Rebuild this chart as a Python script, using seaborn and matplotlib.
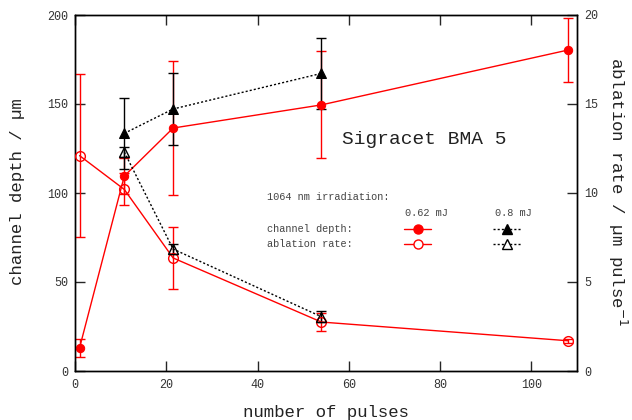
import matplotlib
matplotlib.use("Agg")
import matplotlib.pyplot as plt
import seaborn as sns
import pandas as pd
from matplotlib.lines import Line2D

# ---- data ----
pulses_062 = [1, 10.8, 21.5, 54, 108]
depth_062 = [13, 109.5, 136.5, 149.5, 180.3]
depth_062_err = [5, 10, 37.7, 30, 18]
rate_062 = [12.1, 10.2, 6.35, 2.75, 1.7]
rate_062_err = [4.6, 0.9, 1.75, 0.5, 0.1]

pulses_08 = [10.8, 21.5, 54]
depth_08 = [133.5, 147.2, 167.2]
depth_08_err = [20, 20, 20]
rate_08 = [12.3, 6.85, 3.05]
rate_08_err = [0.3, 0.3, 0.3]

xticks = [0, 20, 40, 60, 80, 100]
yticks_left = [0, 50, 100, 150, 200]
yticks_right = [0, 5, 10, 15, 20]

sns.set_theme(style="white")
plt.rcParams['font.family'] = ['Liberation Mono', 'DejaVu Sans Mono']

fig = plt.figure(figsize=(6.32, 4.2), dpi=100)
ax = fig.add_axes([75/632, 49/420, 502/632, 356/420])
ax2 = ax.twinx()

RED = '#ff0000'
dots = (0, (1.5, 1.5))

df_d62 = pd.DataFrame({'x': pulses_062, 'y': depth_062})
df_d08 = pd.DataFrame({'x': pulses_08, 'y': depth_08})
df_r62 = pd.DataFrame({'x': pulses_062, 'y': rate_062})
df_r08 = pd.DataFrame({'x': pulses_08, 'y': rate_08})

# error bars
ax.errorbar(pulses_062, depth_062, yerr=depth_062_err, fmt='none', ecolor=RED,
            elinewidth=1, capsize=3.5, capthick=1, zorder=2)
ax.errorbar(pulses_08, depth_08, yerr=depth_08_err, fmt='none', ecolor='black',
            elinewidth=1, capsize=3.5, capthick=1, zorder=2)
ax2.errorbar(pulses_062, rate_062, yerr=rate_062_err, fmt='none', ecolor=RED,
             elinewidth=1, capsize=3.5, capthick=1, zorder=2)
ax2.errorbar(pulses_08, rate_08, yerr=rate_08_err, fmt='none', ecolor='black',
             elinewidth=1, capsize=3.5, capthick=1, zorder=2)

# lines with markers
sns.lineplot(data=df_d62, x='x', y='y', ax=ax, color=RED, lw=1, marker='o',
             markersize=6, markeredgecolor=RED, markerfacecolor=RED, zorder=3)
sns.lineplot(data=df_d08, x='x', y='y', ax=ax, color='black', lw=1, linestyle=dots,
             marker='^', markersize=6.5, markeredgecolor='black', markerfacecolor='black', zorder=3)
sns.lineplot(data=df_r62, x='x', y='y', ax=ax2, color=RED, lw=1, marker='o',
             markersize=7, markeredgecolor=RED, markerfacecolor='none', markeredgewidth=1, zorder=3)
sns.lineplot(data=df_r08, x='x', y='y', ax=ax2, color='black', lw=1, linestyle=dots,
             marker='^', markersize=7, markeredgecolor='black', markerfacecolor='none',
             markeredgewidth=1, zorder=3)

ax.set_xlim(0, 110)
ax.set_ylim(0, 200)
ax2.set_ylim(0, 20)
ax.set_xticks(xticks)
ax.set_yticks(yticks_left)
ax2.set_yticks(yticks_right)
ax.set_xticklabels([str(t) for t in xticks])
ax.set_yticklabels([str(t) for t in yticks_left])
ax2.set_yticklabels([str(t) for t in yticks_right])

tickcol = '#333333'
ax.tick_params(axis='x', direction='in', length=7, width=1, top=True, bottom=True,
               labelsize=8.5, labelcolor=tickcol, pad=6)
ax.tick_params(axis='y', direction='in', length=7, width=1, left=True, right=False,
               labelsize=8.5, labelcolor=tickcol, pad=5)
ax2.tick_params(axis='y', direction='in', length=7, width=1, right=True,
                labelsize=8.5, labelcolor=tickcol, pad=5)
for a in (ax, ax2):
    for s in a.spines.values():
        s.set_color('black')
        s.set_linewidth(1)

ax.set_xlabel('')
ax.set_ylabel('')
ax2.set_ylabel('')

fig.text(18/632, 1 - 192/420, 'channel depth / µm', rotation=90, ha='center', va='center',
         fontsize=12.5, color='#222222')
fig.text(326/632, 1 - 412/420, 'number of pulses', ha='center', va='center',
         fontsize=12.5, color='#222222')
fig.text(618/632, 1 - 192/420, 'ablation rate / µm pulse$^{-1}$', rotation=270,
         ha='center', va='center', fontsize=12.5, color='#222222')

ax.text(0.531, 0.649, 'Sigracet BMA 5', transform=ax.transAxes, ha='left', va='center',
        fontsize=14, color='#222222')

# legend block
lfs = 7.4
lcol = '#444444'
ax.text(0.382, 0.489, '1064 nm irradiation:', transform=ax.transAxes, ha='left', va='center',
        fontsize=lfs, color=lcol)
ax.text(0.701, 0.444, '0.62 mJ', transform=ax.transAxes, ha='center', va='center',
        fontsize=lfs, color=lcol)
ax.text(0.873, 0.444, '0.8 mJ', transform=ax.transAxes, ha='center', va='center',
        fontsize=lfs, color=lcol)
ax.text(0.382, 0.400, 'channel depth:', transform=ax.transAxes, ha='left', va='center',
        fontsize=lfs, color=lcol)
ax.text(0.382, 0.358, 'ablation rate:', transform=ax.transAxes, ha='left', va='center',
        fontsize=lfs, color=lcol)

def key(x0, x1, y, color, ls, marker, fc):
    ax.add_line(Line2D([x0, x1], [y, y], transform=ax.transAxes, color=color, lw=1,
                       linestyle=ls, clip_on=False))
    ax.add_line(Line2D([(x0 + x1) / 2], [y], transform=ax.transAxes, color=color,
                       marker=marker, markersize=6.5, markerfacecolor=fc,
                       markeredgecolor=color, linestyle='none', clip_on=False))

key(0.655, 0.710, 0.400, RED, '-', 'o', RED)
key(0.655, 0.710, 0.358, RED, '-', 'o', 'white')
key(0.833, 0.890, 0.400, 'black', dots, '^', 'black')
key(0.833, 0.890, 0.358, 'black', dots, '^', 'white')

fig.savefig('out.png', dpi=100)
